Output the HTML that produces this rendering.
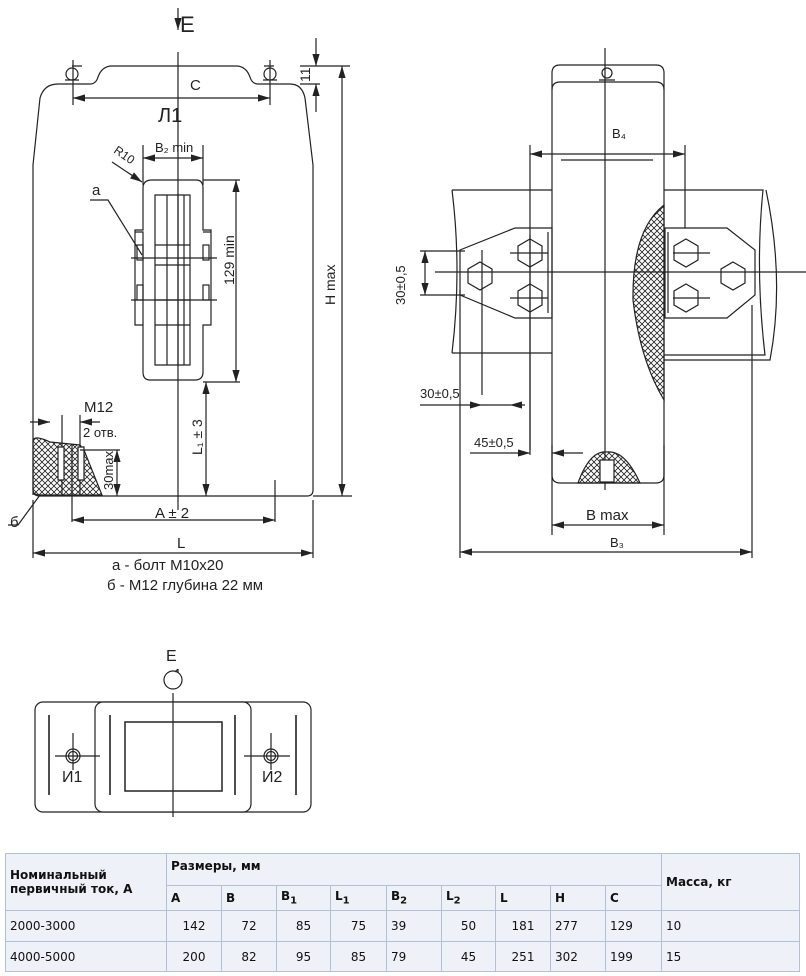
<!DOCTYPE html>
<html><head><meta charset="utf-8"><style>
body{margin:0;background:#fff;width:806px;height:976px;overflow:hidden;font-family:"Liberation Sans",sans-serif}
svg{position:absolute;left:0;top:0}
table{position:absolute;left:5px;top:853px;width:795px;border-collapse:collapse;background:#eef2f8;font-family:"DejaVu Sans","Liberation Sans",sans-serif;font-size:12px;color:#111}
td{border:1px solid #b4c0d4;padding:0 4px;vertical-align:middle}
th{border:1px solid #b4c0d4;font-weight:bold;text-align:left;padding:0 4px}
</style></head><body>
<svg width="806" height="850" viewBox="0 0 806 850" fill="none" stroke="#222" stroke-width="1.2" font-family="Liberation Sans, sans-serif">
<defs>
<pattern id="h" width="6" height="6" patternUnits="userSpaceOnUse"><path d="M0 0L6 6M6 0L0 6" stroke="#222" stroke-width="0.8"/></pattern>
<marker id="a" viewBox="0 0 10 6" refX="10" refY="3" markerWidth="10" markerHeight="6" orient="auto-start-reverse"><path d="M0 0L10 3L0 6z" fill="#222" stroke="none"/></marker>
</defs>
<g fill="#222" stroke="none" font-size="15">
<text x="180" y="32" font-size="22">E</text>
<text x="190" y="90">C</text>
<text x="158" y="122" font-size="20">Л1</text>
<text x="155" y="152" font-size="13">B₂ min</text>
<text x="113" y="152" font-size="12" transform="rotate(35 113 152)">R10</text>
<text x="92" y="195">a</text>
<text x="84" y="412">M12</text>
<text x="83" y="437" font-size="13">2 отв.</text>
<text x="155" y="518">A ± 2</text>
<text x="177" y="548">L</text>
<text x="112" y="570">а - болт М10х20</text>
<text x="107" y="590">б - М12 глубина 22 мм</text>
<text x="10" y="527">б</text>
<text x="612" y="138" font-size="13">B₄</text>
<text x="586" y="520">B max</text>
<text x="610" y="547" font-size="13">B₃</text>
<text x="420" y="398" font-size="13">30±0,5</text>
<text x="474" y="447" font-size="13">45±0,5</text>
<text x="166" y="661" font-size="16">E</text>
<text x="62" y="782" font-size="16">И1</text>
<text x="262" y="782" font-size="16">И2</text>
</g>
<g fill="#222" stroke="none" font-size="14">
<text transform="translate(234 285) rotate(-90)">129 min</text>
<text transform="translate(335 305) rotate(-90)">H max</text>
<text transform="translate(310 82) rotate(-90)">11</text>
<text transform="translate(202 455) rotate(-90)">L₁ ± 3</text>
<text transform="translate(113 490) rotate(-90)" font-size="13">30max</text>
<text transform="translate(405 305) rotate(-90)" font-size="13">30±0,5</text>
</g>
<!-- front view -->
<path d="M33 495V165L40 98Q44 84 58 84H90Q96 84 98 77Q102 66 112 66H236Q246 66 250 77Q252 84 258 84H290Q302 84 305 98L313 165V490Q313 496 307 496H40Q33 496 33 490Z"/>
<path d="M178 52V510"/><path d="M178 8V30" marker-end="url(#a)"/>
<path d="M72 66h10M264 66h10"/>
<circle cx="72" cy="74" r="6"/><circle cx="270" cy="74" r="6"/>
<path d="M65 80h14M263 80h14M73 60v45M270 60v45"/>
<path d="M73 98H270" marker-start="url(#a)" marker-end="url(#a)"/>
<path d="M300 66H350M300 84H320"/>
<path d="M316 38V66" marker-end="url(#a)"/><path d="M316 112V84" marker-end="url(#a)"/>
<path d="M342 496V66" marker-start="url(#a)" marker-end="url(#a)"/><path d="M313 496H352"/>
<!-- window -->
<path d="M143 230V188Q143 180 152 180H196Q203 180 203 188V230H211V325H203V372Q203 380 195 380H150Q143 380 143 372V325H135V230Z"/>
<path d="M155 195H190V365H155ZM167 195V365M178 195V365M184 195V365M155 245H190M155 265H190M155 300H190M155 325H190"/>
<path d="M135 232H143V325M203 232H211M131 258H217M131 300H217"/>
<rect x="137" y="245" width="6" height="15"/><rect x="137" y="285" width="6" height="15"/><rect x="203" y="245" width="6" height="15"/><rect x="203" y="285" width="6" height="15"/>
<path d="M143 145V185M203 145V185"/>
<path d="M143 158H203" marker-start="url(#a)" marker-end="url(#a)"/>
<path d="M112 162L142 182" marker-end="url(#a)"/>
<path d="M90 200H108L142 255"/>
<path d="M203 180H240M203 382H240"/>
<path d="M236 180V382" marker-start="url(#a)" marker-end="url(#a)"/>
<path d="M206 382V496" marker-start="url(#a)" marker-end="url(#a)"/>
<path d="M275 480V522M72 445V522"/>
<path d="M72 520H275" marker-start="url(#a)" marker-end="url(#a)"/>
<path d="M33 500V558M313 500V558"/>
<path d="M33 553H313" marker-start="url(#a)" marker-end="url(#a)"/>
<path d="M30 422H50" marker-end="url(#a)"/><path d="M100 422H80" marker-end="url(#a)"/>
<path d="M62 415V495M80 415V495"/>
<path d="M33 440Q35 435 50 442L80 445L84 450L102 495H40Q33 495 33 490Z" fill="url(#h)"/>
<path d="M58 447H64V480H58ZM78 447H84V480H78Z" fill="#fff"/>
<path d="M80 450H120"/><path d="M117 450V496" marker-start="url(#a)" marker-end="url(#a)"/>
<path d="M40 495L18 525H8"/>
<!-- side view -->
<path d="M560 65H656Q664 65 664 73V475Q664 483 656 483H560Q552 483 552 475V73Q552 65 560 65Z"/>
<path d="M552 90Q552 82 560 82H656Q664 82 664 90"/>
<circle cx="607" cy="73" r="5"/><path d="M599 80h16M605 48V490"/>
<path d="M561 160H653M530 145V455M685 145V285"/>
<path d="M530 154H685" marker-start="url(#a)" marker-end="url(#a)"/>
<path d="M452 190H552M452 353H552M452 190Q462 270 452 353M664 190H763Q755 270 765 355H664M664 360H770Q785 280 766 190"/>
<path d="M552 228H515L460 250V295L515 318H552Z"/>
<path d="M548 232V313"/>
<path d="M664 205Q632 230 633 300Q640 360 664 400Z" fill="url(#h)"/>
<path d="M665 228H727L755 250V295L727 318H665Z" fill="#fff"/>
<path d="M668 232V313"/>
<g>
<path d="M480 262l12 7v14l-12 7l-12-7v-14z"/><path d="M530 239l12 7v14l-12 7l-12-7v-14z"/><path d="M530 284l12 7v14l-12 7l-12-7v-14z"/>
<path d="M686 239l12 7v14l-12 7l-12-7v-14z"/><path d="M686 284l12 7v14l-12 7l-12-7v-14z"/><path d="M733 262l12 7v14l-12 7l-12-7v-14z"/>
</g>
<path d="M435 272H806M420 251H465M420 295H465M510 253H548M510 298H548M673 253H710M673 298H710M482 250V395M530 235V450M552 445V535M664 445V535M460 290V558M752 305V558"/>
<path d="M425 251V295" marker-start="url(#a)" marker-end="url(#a)"/>
<path d="M420 405H462"/><path d="M462 405H482" marker-end="url(#a)"/><path d="M525 405H510" marker-end="url(#a)"/><path d="M482 405H510"/>
<path d="M470 453H510"/><path d="M510 453H530" marker-end="url(#a)"/><path d="M583 453H552" marker-end="url(#a)"/>
<path d="M552 525H664" marker-start="url(#a)" marker-end="url(#a)"/>
<path d="M460 552H752" marker-start="url(#a)" marker-end="url(#a)"/>
<path d="M578 483Q590 450 607 452Q625 450 640 483Z" fill="url(#h)"/>
<path d="M600 460H614V482H600Z" fill="#fff"/>
<!-- bottom view -->
<rect x="35" y="702" width="276" height="110" rx="8"/>
<rect x="95" y="702" width="156" height="110" rx="8" fill="#fff"/>
<rect x="125" y="722" width="97" height="69" stroke-width="1.5"/>
<path d="M173 693V817M55 756H100M244 756H290M73 733V770M271 733V770"/>
<path d="M49 715V795M110 715V795M235 715V795M296 715V795" stroke-width="1.6"/>
<circle cx="173" cy="680" r="9"/><path d="M175 672l3-3M178 669v4" />
<circle cx="73" cy="756" r="7"/><circle cx="73" cy="756" r="4.5"/><circle cx="271" cy="756" r="7"/><circle cx="271" cy="756" r="4.5"/>
</svg>
<table>
<tr style="height:32px"><th rowspan="2" style="width:152px">Номинальный<br>первичный ток, А</th><th colspan="9" style="vertical-align:top;padding-top:5px">Размеры, мм</th><th rowspan="2">Масса, кг</th></tr>
<tr style="height:25px"><th style="width:46px">A</th><th style="width:46px">B</th><th style="width:45px">B<sub>1</sub></th><th style="width:47px">L<sub>1</sub></th><th style="width:46px">B<sub>2</sub></th><th style="width:45px">L<sub>2</sub></th><th style="width:46px">L</th><th style="width:46px">H</th><th style="width:47px">C</th></tr>
<tr style="height:31px"><td>2000-3000</td><td style="text-align:center">142</td><td style="text-align:center">72</td><td style="text-align:center">85</td><td style="text-align:center">75</td><td>39</td><td style="text-align:center">50</td><td style="text-align:center">181</td><td>277</td><td>129</td><td>10</td></tr>
<tr style="height:30px"><td>4000-5000</td><td style="text-align:center">200</td><td style="text-align:center">82</td><td style="text-align:center">95</td><td style="text-align:center">85</td><td>79</td><td style="text-align:center">45</td><td style="text-align:center">251</td><td>302</td><td>199</td><td>15</td></tr>
</table>
</body></html>
